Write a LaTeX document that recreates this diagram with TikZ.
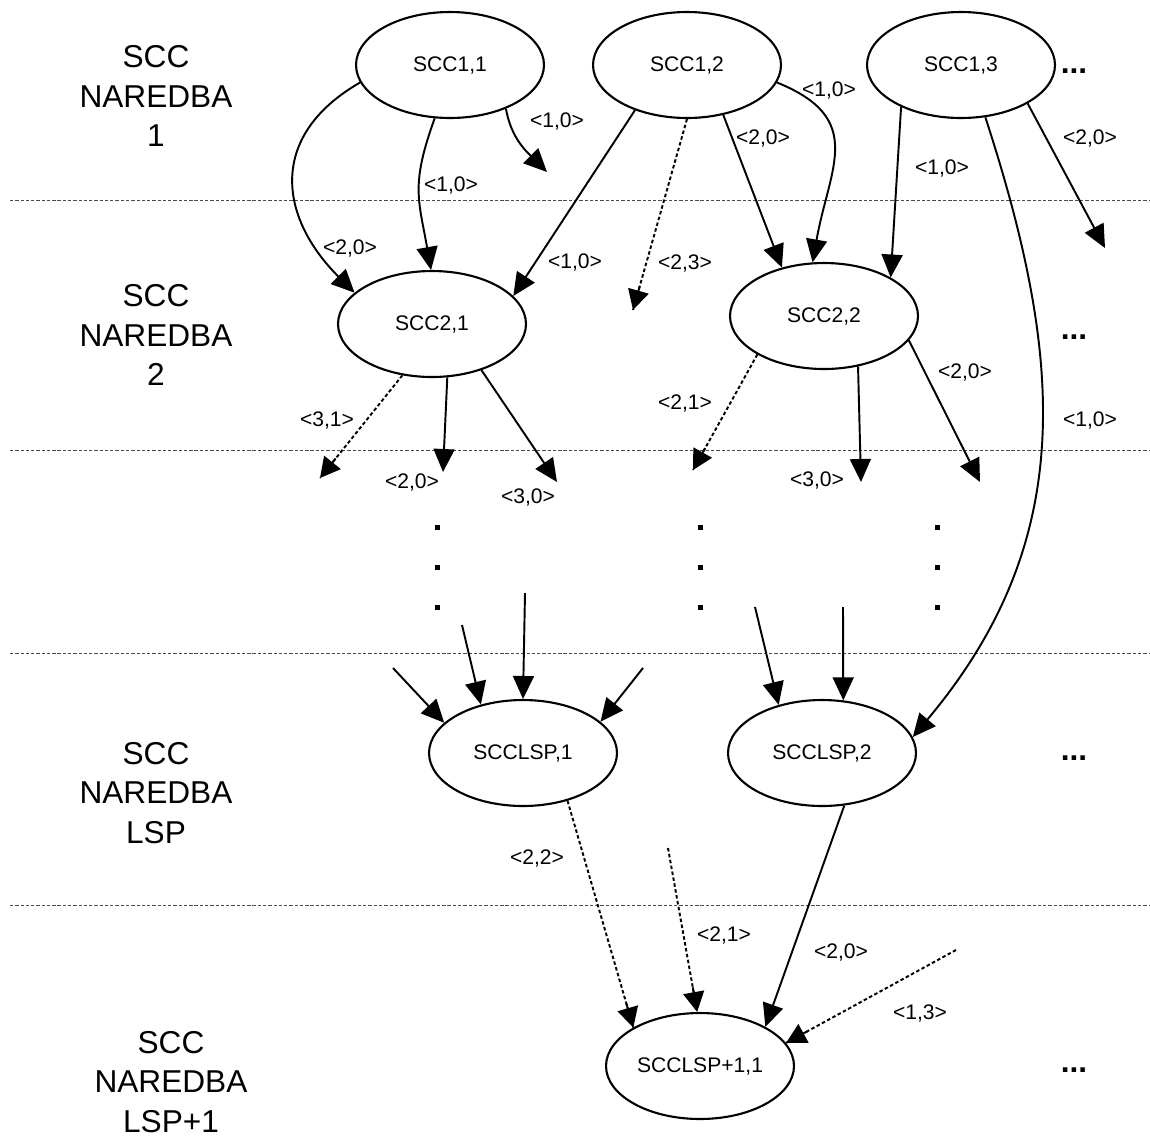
\documentclass[tikz,border=0pt]{standalone}
\usepackage{fontspec}
\setmainfont{Liberation Sans}
\usetikzlibrary{arrows.meta,calc,shapes.geometric}
\tikzset{
	scc/.style={draw, ellipse, line width=1.2pt, minimum width=3.76cm, minimum height=2.12cm, inner sep=0pt, font=\fontsize{12}{14}\selectfont},
	lbl/.style={inner sep=0pt, font=\fontsize{12}{14}\selectfont},
	lvl/.style={align=center, inner sep=0pt, font=\fontsize{18}{22.7}\selectfont},
	more/.style={inner sep=0pt, font=\fontsize{18}{20}\selectfont\bfseries},
	arr/.style={line width=1.1pt, -{Triangle[length=0.46cm,width=0.42cm]}},
	darr/.style={line width=1.1pt, dash pattern=on 2pt off 1.4pt},
	dhead/.style={line width=1.1pt, -{Triangle[length=0.4cm,width=0.42cm]}},
	sep/.style={black!70, line width=0.5pt, dash pattern=on 1.9pt off 1.1pt}
}
\def\dotarrow(#1)(#2){\draw[darr] (#1) -- (#2); \draw[dhead] ($(#2)!0.5cm!(#1)$) -- (#2);}

\begin{document}
\begin{tikzpicture}[x=0.02cm, y=-0.02cm]
		%%%%% START %%%%%
		\useasboundingbox (0,0) rectangle (1150,1137);
		
		\foreach \y in {200,450,653,905}
			\draw[sep] (10,\y) -- (1150,\y);
		
		\node[lvl] (lv1) at (156,96) {SCC\\NAREDBA\\1};
		\node[lvl] (lv2) at (156,335) {SCC\\NAREDBA\\2};
		\node[lvl] (lv3) at (156,793) {SCC\\NAREDBA\\LSP};
		\node[lvl] (lv4) at (171,1082) {SCC\\NAREDBA\\LSP+1};
		
		\node[scc] (s11) at (450,65) {SCC1,1};
		\node[scc] (s12) at (687,65) {SCC1,2};
		\node[scc] (s13) at (961,65) {SCC1,3};
		\node[scc] (s21) at (432,324) {SCC2,1};
		\node[scc] (s22) at (824,316) {SCC2,2};
		\node[scc] (sl1) at (523,753) {SCCLSP,1};
		\node[scc] (sl2) at (822,753) {SCCLSP,2};
		\node[scc] (slp) at (700,1066) {SCCLSP+1,1};
		
		\node[more] (m1) at (1074,71) {...};
		\node[more] (m2) at (1074,337) {...};
		\node[more] (m3) at (1074,758) {...};
		\node[more] (m4) at (1074,1070) {...};
		
		\foreach \x in {437,700,937}
			\foreach \y in {527,567,607}
				\fill (\x-2.5,\y-2.5) rectangle (\x+2.5,\y+2.5);
		
		% loose ends
		\coordinate (e3) at (547,172);
		\coordinate (e5) at (633,310);
		\coordinate (e9) at (1105,248);
		\coordinate (e11) at (320,478);
		\coordinate (e12) at (443,472);
		\coordinate (e13) at (557,482);
		\coordinate (e14) at (693,470);
		\coordinate (e15) at (861,482);
		\coordinate (e16) at (980,482);
		\coordinate (b17) at (393,668);
		\coordinate (b18) at (462,625);
		\coordinate (b19) at (525,593);
		\coordinate (b20) at (643,668);
		\coordinate (b21) at (755,607);
		\coordinate (b22) at (843,607);
		\coordinate (b24) at (668,848);
		\coordinate (b26) at (956,950);
		
		% level 1
		\draw[arr] (s11.191) to[out=210,in=135,looseness=1.3] (s21.158);
		\draw[arr] (s11.254) to[out=250,in=100,looseness=1.2] (s21.91);
		\draw[arr] (s11.322) to[out=280,in=135] (e3);
		\draw[arr] (s12.221) -- (s21.19);
		\dotarrow(s12.270)(e5)
		\draw[arr] (s12.306) -- (s22.131);
		\draw[arr] (s12.349) to[out=-22,in=80,looseness=1.35] (s22.102);
		\draw[arr] (s13.215) -- (s22.30);
		\draw[arr] (s13.330) -- (e9);
		\draw[arr] (s13.295) to[out=-72,in=50,looseness=1.05] (sl2.10);
		
		% level 2
		\dotarrow(s21.240)(e11)
		\draw[arr] (s21.286) -- (e12);
		\draw[arr] (s21.317) -- (e13);
		\dotarrow(s22.210)(e14)
		\draw[arr] (s22.304) -- (e15);
		\draw[arr] (s22.344) -- (e16);
		
		% level LSP
		\draw[arr] (b17) -- (sl1.159);
		\draw[arr] (b18) -- (sl1.131);
		\draw[arr] (b19) -- (sl1.90);
		\draw[arr] (b20) -- (sl1.22);
		\draw[arr] (b21) -- (sl2.132);
		\draw[arr] (b22) -- (sl2.68);
		
		% level LSP+1
		\dotarrow(sl1.313)(slp.150)
		\dotarrow(b24)(slp.93)
		\draw[arr] (sl2.293) -- (slp.31);
		\dotarrow(b26)(slp.15)
		
		\node[lbl] (l1) at (350,248) {<2,0>};
		\node[lbl] (l2) at (451,185) {<1,0>};
		\node[lbl] (l3) at (557,121) {<1,0>};
		\node[lbl] (l4) at (575,262) {<1,0>};
		\node[lbl] (l5) at (685,263) {<2,3>};
		\node[lbl] (l6) at (763,138) {<2,0>};
		\node[lbl] (l7) at (829,90) {<1,0>};
		\node[lbl] (l8) at (942,168) {<1,0>};
		\node[lbl] (l9) at (1090,138) {<2,0>};
		\node[lbl] (l10) at (1090,420) {<1,0>};
		\node[lbl] (l11) at (327,420) {<3,1>};
		\node[lbl] (l12) at (412,482) {<2,0>};
		\node[lbl] (l13) at (528,497) {<3,0>};
		\node[lbl] (l14) at (685,403) {<2,1>};
		\node[lbl] (l15) at (817,480) {<3,0>};
		\node[lbl] (l16) at (965,372) {<2,0>};
		\node[lbl] (l23) at (537,858) {<2,2>};
		\node[lbl] (l24) at (724,935) {<2,1>};
		\node[lbl] (l25) at (841,952) {<2,0>};
		\node[lbl] (l26) at (920,1013) {<1,3>};
		%%%%% END %%%%%
\end{tikzpicture}
\end{document}
